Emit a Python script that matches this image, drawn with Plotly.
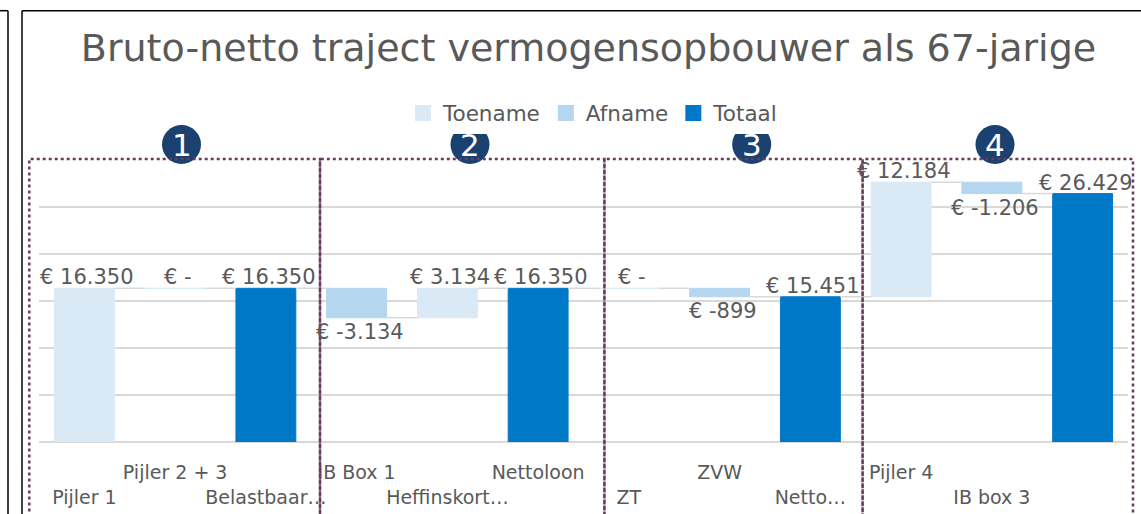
import plotly.graph_objects as go

# ---------------- data ----------------
categories = ["Pijler 1", "Pijler 2 + 3", "Belastbaar…", "IB Box 1", "Heffinskort…",
              "Nettoloon", "ZT", "ZVW", "Netto…", "Pijler 4", "IB box 3", "Besteedba…"]
values = [16350, 0, 16350, -3134, 3134, 16350, 0, -899, 15451, 12184, -1206, 26429]
measures = ["relative", "relative", "total", "relative", "relative", "total",
            "relative", "relative", "total", "relative", "relative", "total"]
series_names = ["Toename", "Afname", "Totaal"]
group_numbers = ["1", "2", "3", "4"]
title_text = "Bruto-netto traject vermogensopbouwer als 67-jarige"

# ---------------- style ----------------
W, H = 1141, 514
M = dict(l=39, r=13, t=160, b=72, autoexpand=False)
PW = W - M["l"] - M["r"]
PH = H - M["t"] - M["b"]
FONT = "DejaVu Sans"
TXT = "#595959"
COLORS = {"Toename": "#DAE9F6", "Afname": "#B4D6EF", "Totaal": "#0078C8"}
GRID = "#D9D9D9"
DOT = "#6B3B5E"
CIRCLE = "#1B4170"
BAR_W = 0.66


def px(x):
    return (x - M["l"]) / PW


def py(y):
    return (H - M["b"] - y) / PH


# waterfall geometry computed from values
bases, heights, ends, kinds = [], [], [], []
running = 0
for v, m in zip(values, measures):
    if m == "total":
        b = 0
        running = v
        kind = "Totaal"
    else:
        b = running
        running += v
        kind = "Toename" if v >= 0 else "Afname"
    bases.append(b)
    heights.append(v)
    ends.append(b + v)
    kinds.append(kind)

fig = go.Figure()

# connectors
cx, cy = [], []
for i in range(len(values) - 1):
    cx += [i + BAR_W / 2, i + 1 - BAR_W / 2, None]
    cy += [ends[i], ends[i], None]
fig.add_trace(go.Scatter(x=cx, y=cy, mode="lines", line=dict(color=GRID, width=1.5),
                         hoverinfo="skip", showlegend=False))

for name in series_names:
    idx = [i for i, k in enumerate(kinds) if k == name]
    fig.add_trace(go.Bar(
        name=name,
        x=idx,
        y=[heights[i] for i in idx],
        base=[bases[i] for i in idx],
        width=BAR_W,
        legendgroup=name,
        showlegend=False,
        marker=dict(color=COLORS[name], line=dict(color=COLORS[name], width=1)),
    ))
# legend entries (larger square symbols)
for name in series_names:
    fig.add_trace(go.Scatter(
        x=[None], y=[None], mode="markers", name=name, legendgroup=name,
        marker=dict(symbol="square", size=18, color=COLORS[name]),
    ))


def fmt(v):
    if v == 0:
        return "€ -"
    s = f"{abs(v):,}".replace(",", ".")
    return ("€ -" if v < 0 else "€ ") + s


annotations = []
for i, v in enumerate(values):
    annotations.append(dict(
        x=i, y=ends[i], xref="x", yref="y", text=fmt(v), showarrow=False,
        xshift=3, yshift=0 if v < 0 else -3, yanchor="top" if v < 0 else "bottom",
        font=dict(family=FONT, size=21, color=TXT),
    ))

# numbered circles
circle_centers = [181.5, 470, 751.7, 995]
shapes = []
for n, cxp in zip(group_numbers, circle_centers):
    r = 19.5
    shapes.append(dict(type="circle", xref="paper", yref="paper",
                       x0=px(cxp - r), x1=px(cxp + r), y0=py(144.5 + r), y1=py(144.5 - r),
                       fillcolor=CIRCLE, line=dict(width=0), layer="above"))
    annotations.append(dict(x=px(cxp), y=py(145), xref="paper", yref="paper", text=n,
                            showarrow=False, xanchor="center", yanchor="middle",
                            font=dict(family=FONT, size=31, color="white")))

# dotted group boxes
box_edges = [29.3, 320, 604.4, 862.6, 1133]
for a, b in zip(box_edges[:-1], box_edges[1:]):
    shapes.append(dict(type="rect", xref="paper", yref="paper",
                       x0=px(a), x1=px(b), y0=py(530), y1=py(159),
                       line=dict(color=DOT, width=2.5, dash="dot"), layer="above"))

# outer frames
for seg in [((22, 10.7), (22, 530)), ((22, 10.7), (1150, 10.7)),
            ((8, 10.7), (8, 530)), ((-5, 10.7), (8, 10.7))]:
    (x0, y0), (x1, y1) = seg
    shapes.append(dict(type="line", xref="paper", yref="paper",
                       x0=px(x0), x1=px(x1), y0=py(y0), y1=py(y1),
                       line=dict(color="black", width=1.5), layer="above"))

ticktext = [c if i % 2 == 1 else "<br>" + c for i, c in enumerate(categories)]

fig.update_layout(
    width=W, height=H, margin=M,
    paper_bgcolor="white", plot_bgcolor="white",
    title=dict(text=title_text, font=dict(family=FONT, size=38, color=TXT),
               xref="container", yref="container", x=588.5 / W, xanchor="center",
               y=1 - 48 / H, yanchor="middle"),
    barmode="overlay",
    showlegend=True,
    legend=dict(orientation="h", xref="container", yref="container",
                x=593 / W, xanchor="center", y=1 - 113 / H, yanchor="middle",
                font=dict(family=FONT, size=21.5, color=TXT), itemwidth=30,
                traceorder="normal"),
    xaxis=dict(range=[-0.5, len(categories) - 0.5], tickvals=list(range(len(categories))),
               ticktext=ticktext, tickangle=0, showgrid=False, zeroline=False, showline=False,
               ticks="", tickfont=dict(family=FONT, size=19, color=TXT),
               ticklabelstandoff=17, automargin=False, fixedrange=True),
    yaxis=dict(range=[0, 30000], dtick=5000, showticklabels=False, showgrid=True,
               gridcolor=GRID, gridwidth=1.5, zeroline=True, zerolinecolor=GRID,
               zerolinewidth=1.5, showline=False, automargin=False, fixedrange=True),
    annotations=annotations,
    shapes=shapes,
    font=dict(family=FONT, color=TXT),
)

fig.write_html("out.html", config={"displayModeBar": False},
               post_script="document.body.style.margin='0';document.body.style.overflow='hidden';")
